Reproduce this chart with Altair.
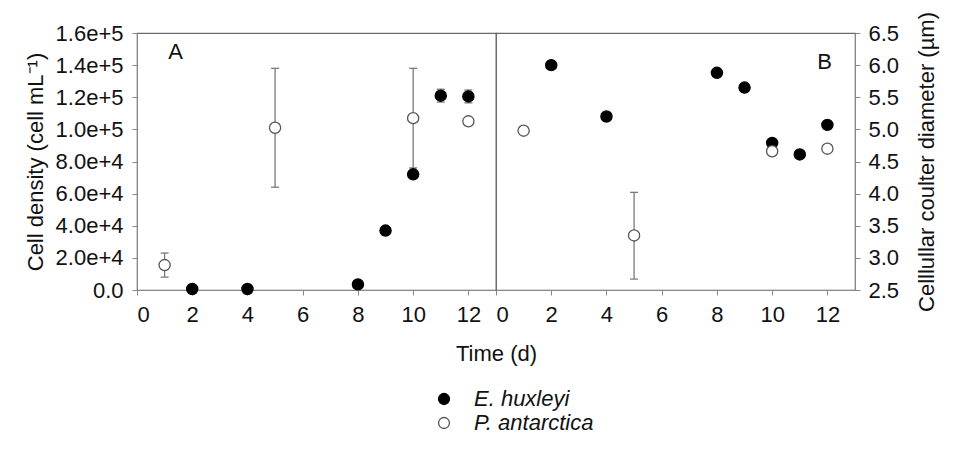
import altair as alt
import pandas as pd

# ---- Panel A: cell density ----
a_eh_day = [2, 4, 8, 9, 10, 11, 12]
a_eh_val = [600, 600, 3500, 37000, 72000, 121000, 120500]
a_eh_err = [300, 300, 500, 1000, 1500, 4000, 4000]

a_pa_day = [1, 5, 10, 12]
a_pa_val = [15500, 101000, 107000, 105000]
a_pa_lo = [8000, 64000, 76000, 104000]
a_pa_hi = [23000, 138000, 138000, 106000]

# ---- Panel B: coulter diameter ----
b_eh_day = [2, 4, 8, 9, 10, 11, 12]
b_eh_val = [6.00, 5.20, 5.88, 5.65, 4.79, 4.61, 5.07]
b_eh_err = [0.03, 0.05, 0.04, 0.05, 0.03, 0.03, 0.04]

b_pa_day = [1, 5, 10, 12]
b_pa_val = [4.98, 3.35, 4.66, 4.70]
b_pa_lo = [4.96, 2.67, 4.60, 4.68]
b_pa_hi = [5.00, 4.02, 4.72, 4.72]

species = ["E. huxleyi", "P. antarctica"]
x_ticks = [0, 2, 4, 6, 8, 10, 12]
a_ticks = [0, 20000, 40000, 60000, 80000, 100000, 120000, 140000, 160000]
b_ticks = [2.5, 3.0, 3.5, 4.0, 4.5, 5.0, 5.5, 6.0, 6.5]

FONT = "Liberation Sans"
FS = 22
GREY = "#7a7a7a"


def frame(days, vals, lo, hi, sp):
    return pd.DataFrame({"day": days, "val": vals, "lo": lo, "hi": hi,
                         "species": [sp] * len(days)})


dfA = pd.concat([
    frame(a_eh_day, a_eh_val,
          [v - e for v, e in zip(a_eh_val, a_eh_err)],
          [v + e for v, e in zip(a_eh_val, a_eh_err)], species[0]),
    frame(a_pa_day, a_pa_val, a_pa_lo, a_pa_hi, species[1]),
])
dfB = pd.concat([
    frame(b_eh_day, b_eh_val,
          [v - e for v, e in zip(b_eh_val, b_eh_err)],
          [v + e for v, e in zip(b_eh_val, b_eh_err)], species[0]),
    frame(b_pa_day, b_pa_val, b_pa_lo, b_pa_hi, species[1]),
])

fill_scale = alt.Scale(domain=species, range=["black", "white"])
stroke_scale = alt.Scale(domain=species, range=["black", "#555555"])

W, H = 359, 257


def panel(df, yscale, yaxis, xtitle, label_text, label_x, label_y):
    x = alt.X("day:Q", scale=alt.Scale(domain=[0, 13], nice=False),
              axis=alt.Axis(values=x_ticks, title=xtitle, grid=False,
                            labelPadding=9, tickSize=5, titleX=W, titleAlign="center",
                            titlePadding=18))
    y = lambda f: alt.Y(f, scale=yscale, axis=yaxis)
    base = alt.Chart(df)
    vrule = base.mark_rule(color=GREY, strokeWidth=1.3).encode(
        x=x, y=y("lo:Q"), y2="hi:Q")
    cap_lo = base.mark_rule(color=GREY, strokeWidth=1.3, xOffset=-4, x2Offset=4).encode(
        x=x, x2="day:Q", y=y("lo:Q"))
    cap_hi = base.mark_rule(color=GREY, strokeWidth=1.3, xOffset=-4, x2Offset=4).encode(
        x=x, x2="day:Q", y=y("hi:Q"))
    pts = base.mark_point(filled=False, size=125, opacity=1, strokeWidth=1.3).encode(
        x=x, y=y("val:Q"),
        fill=alt.Fill("species:N", scale=fill_scale,
                      legend=alt.Legend(title=None, orient="none", legendX=296, legendY=355,
                                        direction="vertical", labelFontStyle="italic",
                                        labelFontSize=FS, labelFont=FONT, symbolSize=120,
                                        rowPadding=2, labelOffset=19, labelColor="#111",
                                        symbolStrokeWidth=1.3)),
        stroke=alt.Stroke("species:N", scale=stroke_scale),
    )
    lab = alt.Chart(pd.DataFrame({"day": [label_x], "val": [label_y], "t": [label_text]})).mark_text(
        fontSize=FS, font=FONT, color="#111").encode(x=x, y=y("val:Q"), text="t:N")
    return alt.layer(vrule, cap_lo, cap_hi, pts, lab).properties(width=W, height=H)


axisA = alt.Axis(values=a_ticks, grid=False, title="Cell density (cell mL⁻¹)",
                 labelExpr="datum.value == 0 ? '0.0' : format(datum.value, '.1e')",
                 tickSize=5, labelPadding=9, titlePadding=8, labelOverlap=False)
axisB = alt.Axis(values=b_ticks, grid=False, orient="right", format=".1f",
                 title="Celllullar coulter diameter (µm)", titleAngle=270,
                 tickSize=5, labelPadding=8, titlePadding=40, labelOverlap=False)

pA = panel(dfA, alt.Scale(domain=[0, 160000], nice=False), axisA, "Time (d)", "A", 1.4, 148000)
pB = panel(dfB, alt.Scale(domain=[2.5, 6.5], nice=False), axisB, None, "B", 11.9, 6.05)

chart = alt.hconcat(pA, pB, spacing=0, bounds="flush").resolve_scale(y="independent").properties(
    padding={"left": 15, "top": 2, "right": 2, "bottom": 5}
).configure_view(stroke="#6a6a6a", strokeWidth=1.2).configure_axis(
    labelFont=FONT, titleFont=FONT, labelFontSize=FS, titleFontSize=FS,
    titleFontWeight="normal", labelColor="#111", titleColor="#111",
    domainColor="#888", tickColor="#888", labelOverlap=False
)

chart.save("out.html", embed_options={"renderer": "svg", "actions": False})
